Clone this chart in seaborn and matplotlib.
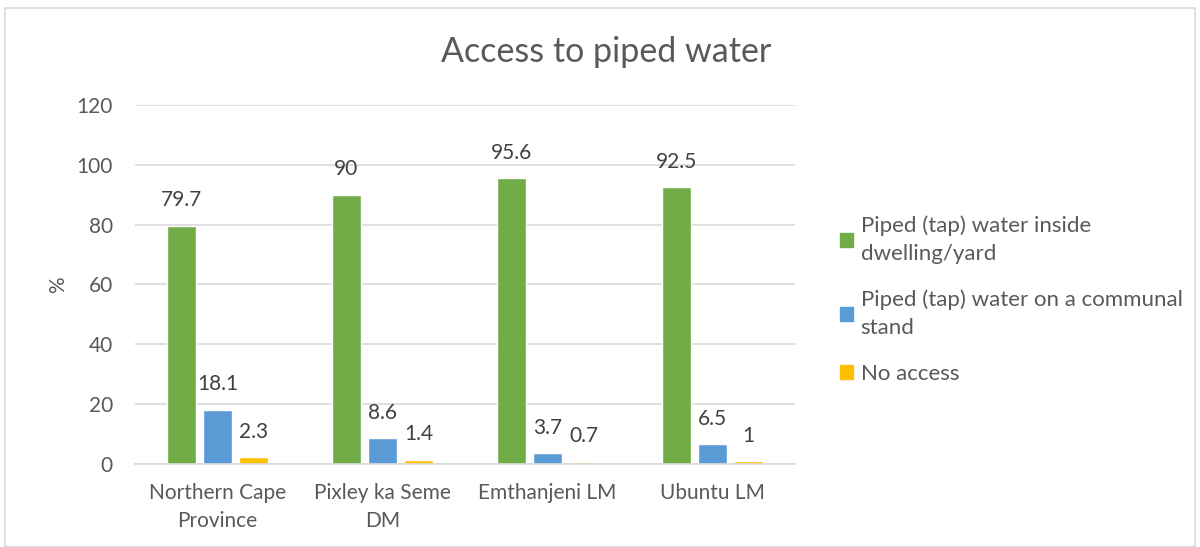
import matplotlib
matplotlib.use("Agg")
import matplotlib.pyplot as plt
import pandas as pd
import seaborn as sns
from matplotlib.patches import Rectangle

# data
areas = ["Northern Cape\nProvince", "Pixley ka Seme\nDM", "Emthanjeni LM", "Ubuntu LM"]
series = ["Piped (tap) water inside\ndwelling/yard",
          "Piped (tap) water on a communal\nstand",
          "No access"]
inside_yard = [79.7, 90, 95.6, 92.5]
communal = [18.1, 8.6, 3.7, 6.5]
no_access = [2.3, 1.4, 0.7, 1]
colors = ["#70AD47", "#5B9BD5", "#FFC000"]

df = pd.DataFrame({
    "area": areas * 3,
    "series": [s for s in series for _ in areas],
    "value": inside_yard + communal + no_access,
})

TEXT = "#595959"
GRID = "#D9D9D9"

sns.set_theme(style="white")
plt.rcParams["font.family"] = ["Lato", "DejaVu Sans"]
plt.rcParams["text.color"] = TEXT

fig = plt.figure(figsize=(12, 5.47), dpi=100)
ax = fig.add_axes([0.1125, 0.152, 0.55, 0.656])

sns.barplot(data=df, x="area", y="value", hue="series", order=areas,
            hue_order=series, palette=colors, width=0.655, gap=0.22,
            saturation=1, ax=ax, legend=False)

for cont in ax.containers:
    ax.bar_label(cont, labels=[f"{v:g}" for v in cont.datavalues],
                 padding=11, fontsize=15, color="#404040")

ax.set_ylim(0, 120)
ax.set_yticks(range(0, 121, 20))
ax.set_xlim(-0.5, 3.5)
ax.yaxis.grid(True, color=GRID, linewidth=1.2)
ax.set_axisbelow(True)
for side in ["top", "right", "left"]:
    ax.spines[side].set_visible(False)
ax.spines["bottom"].set_color(GRID)
ax.spines["bottom"].set_linewidth(1.2)
ax.tick_params(axis="both", length=0, labelsize=15, labelcolor=TEXT)
ax.tick_params(axis="x", pad=14)
ax.tick_params(axis="y", pad=16)
for lbl in ax.get_xticklabels():
    lbl.set_linespacing(1.45)
ax.set_xlabel("")
ax.set_ylabel("%", fontsize=15, color=TEXT, labelpad=6)

fig.suptitle("Access to piped water", x=0.505, y=0.935, fontsize=24.5, color=TEXT)

handles = [Rectangle((0, 0), 1, 1, color=c) for c in colors]
leg = fig.legend(handles, series, loc="upper left", bbox_to_anchor=(0.683, 0.643),
                 frameon=False, fontsize=16, labelcolor=TEXT, handlelength=0.6,
                 handleheight=0.6, handletextpad=0.35, labelspacing=1.15)
for t in leg.get_texts():
    t.set_linespacing(1.5)

fig.patches.append(Rectangle((0.004, 0.0), 0.992, 0.985, transform=fig.transFigure,
                             fill=False, edgecolor=GRID, linewidth=1.2))

fig.savefig("out.png", dpi=100)
